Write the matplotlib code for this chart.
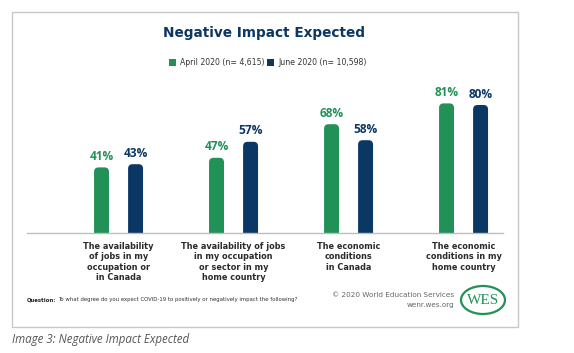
import matplotlib
matplotlib.use("Agg")
import matplotlib.pyplot as plt
from matplotlib.patches import FancyBboxPatch, Rectangle, Ellipse

categories = [
    "The availability\nof jobs in my\noccupation or\nin Canada",
    "The availability of jobs\nin my occupation\nor sector in my\nhome country",
    "The economic\nconditions\nin Canada",
    "The economic\nconditions in my\nhome country",
]
april = [41, 47, 68, 81]
june = [43, 57, 58, 80]
series_names = ["April 2020 (n= 4,615)", "June 2020 (n= 10,598)"]

GREEN = "#229157"
NAVY = "#0b3764"
FONT = "DejaVu Sans"

W, H = 574, 353
fig = plt.figure(figsize=(W / 100, H / 100), dpi=100)

def fx(px):
    return px / W

def fy(py):
    return 1 - py / H

# outer frame
fig.patches.append(Rectangle((fx(12), fy(327)), fx(518) - fx(12), fy(12) - fy(327),
                             transform=fig.transFigure, fill=False, edgecolor="#c8c8c8", lw=1.0))

# axes: baseline at y=233px, 100% at 73px; x from 27 to 503 px
ax = fig.add_axes([fx(27), fy(233), fx(503) - fx(27), (233 - 73) / H])
ax.set_xlim(-0.796, 3.343)
ax.set_ylim(0, 100)
ax.axis("off")
ax.axhline(0, color="#bdbdbd", lw=1.0, clip_on=False)

bw = 0.13
off = 0.148
xs = list(range(len(categories)))
xdata_per_px = (3.343 + 0.796) / 476
ydata_per_px = 100 / 160
aspect = ydata_per_px / xdata_per_px
for vals, color, sign, name in [(april, GREEN, -1, series_names[0]), (june, NAVY, 1, series_names[1])]:
    bars = ax.bar([x + sign * off for x in xs], vals, width=bw, color=color, label=name)
    for b, v in zip(bars, vals):
        b.set_visible(False)
        x0, w, h = b.get_x(), b.get_width(), b.get_height()
        p = FancyBboxPatch((x0, -5), w, h + 5,
                           boxstyle="round,pad=0,rounding_size=%f" % (w * 0.3),
                           mutation_aspect=aspect, facecolor=color, edgecolor="none")
        ax.add_patch(p)
        ax.text(x0 + w / 2, h + 2.8, f"{v}%", ha="center", va="bottom", color=color,
                fontsize=8.6, fontweight="bold", family="Open Sans")

for x, c in zip(xs, categories):
    ax.text(x, -5.5, c, ha="center", va="top", fontsize=5.9, fontweight="bold",
            color="#2b2b2b", family=FONT, linespacing=1.2)

# title
fig.text(fx(264), fy(33), "Negative Impact Expected", ha="center", va="center",
         fontsize=9.8, fontweight="bold", color=NAVY, family=FONT)

# legend
for (sx, tx, color, name) in [(169, 180, GREEN, series_names[0]), (267, 278, NAVY, series_names[1])]:
    fig.patches.append(Rectangle((fx(sx), fy(66)), fx(7), 7 / H, transform=fig.transFigure,
                                 facecolor=color, edgecolor="none"))
    fig.text(fx(tx), fy(62.5), name, ha="left", va="center", fontsize=5.6,
             color="#333333", family=FONT)

# footer
q = fig.text(fx(27), fy(300), "Question:", ha="left", va="center", fontsize=3.9,
             fontweight="bold", color="#222222", family=FONT)
fig.canvas.draw()
bb = q.get_window_extent()
fig.text((bb.x1 + 1.5) / W, fy(300), "To what degree do you expect COVID-19 to positively or negatively impact the following?",
         ha="left", va="center", fontsize=3.9, color="#333333", family=FONT)
fig.text(fx(454), fy(295), "\u00a9 2020 World Education Services", ha="right", va="center",
         fontsize=5.2, color="#666666", family=FONT)
fig.text(fx(454), fy(305), "wenr.wes.org", ha="right", va="center",
         fontsize=5.2, color="#666666", family=FONT)

# WES logo
fig.patches.append(Ellipse((fx(483), fy(300)), fx(44), 28 / H, transform=fig.transFigure,
                           fill=False, edgecolor=GREEN, lw=1.6))
fig.text(fx(483), fy(300.5), "WES", ha="center", va="center", fontsize=11,
         color=GREEN, family="Liberation Serif")

# caption
fig.text(fx(12), fy(340), "Image 3: Negative Impact Expected", ha="left", va="center",
         fontsize=8.3, style="italic", color="#555555", family="Open Sans")

fig.savefig("out.png", dpi=100)
